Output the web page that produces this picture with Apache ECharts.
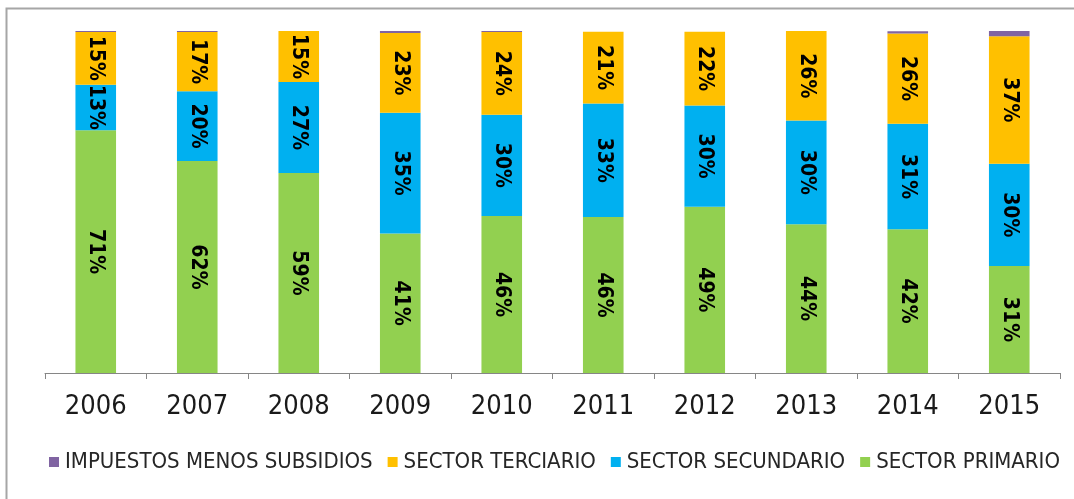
<!DOCTYPE html>
<html>
<head>
<meta charset="utf-8">
<script src="https://cdn.jsdelivr.net/npm/echarts@6/dist/echarts.min.js"></script>
<style>
html,body{margin:0;padding:0;background:#fff;}
#chart{width:1074px;height:499px;}
</style>
</head>
<body>
<div id="chart"></div>
<script>
const years = ['2006','2007','2008','2009','2010','2011','2012','2013','2014','2015'];
const primario   = [71.0, 62.0, 58.5, 40.8, 45.9, 45.6, 48.6, 43.5, 42.0, 31.3];
const secundario = [13.3, 20.4, 26.6, 35.3, 29.6, 33.2, 29.6, 30.3, 30.9, 29.9];
const terciario  = [15.4, 17.3, 14.9, 23.3, 24.2, 21.0, 21.6, 26.2, 26.4, 37.3];
const impuestos  = [0.3, 0.3, 0.0, 0.6, 0.3, 0.0, 0.0, 0.0, 0.6, 1.5];
const names = ['IMPUESTOS MENOS SUBSIDIOS','SECTOR TERCIARIO','SECTOR SECUNDARIO','SECTOR PRIMARIO'];

const FONT = '"Liberation Sans Narrow","DejaVu Sans Condensed","Liberation Sans",sans-serif';
const labelStyle = {
  show: true, position: 'inside', rotate: -90,
  fontFamily: FONT, fontWeight: 'bold', fontSize: 21, color: '#000',
  formatter: p => Math.round(p.value) + '%'
};
function bar(name, data, color, withLabel) {
  return {
    name, type: 'bar', stack: 'total', data, barWidth: '40%',
    itemStyle: { color },
    label: withLabel ? labelStyle : { show: false },
    emphasis: { disabled: true }
  };
}
const chart = echarts.init(document.getElementById('chart'));
chart.setOption({
  animation: false,
  backgroundColor: '#fff',
  graphic: [{
    type: 'rect', silent: true,
    shape: { x: 6.5, y: 8.5, width: 1200, height: 600 },
    style: { fill: 'none', stroke: '#a6a6a6', lineWidth: 2 }
  }],
  grid: { left: 45, right: 14, top: 31, bottom: 126 },
  legend: {
    data: names, left: 44, top: 446,
    itemWidth: 10, itemHeight: 10, itemGap: 15, icon: 'rect',
    textStyle: { fontFamily: FONT, fontSize: 22, color: '#262626', padding: [0,0,0,1] }
  },
  xAxis: {
    type: 'category', data: years,
    axisLine: { lineStyle: { color: '#868686', width: 1 } },
    axisTick: { show: true, length: 6, lineStyle: { color: '#868686' } },
    axisLabel: { fontFamily: FONT, fontSize: 27, color: '#1a1a1a', margin: 20 }
  },
  yAxis: { type: 'value', min: 0, max: 100, show: false, splitLine: { show: false } },
  series: [
    bar(names[3], primario, '#92D050', true),
    bar(names[2], secundario, '#00B0F0', true),
    bar(names[1], terciario, '#FFC000', true),
    bar(names[0], impuestos, '#8064A2', false)
  ]
});
</script>
</body>
</html>
